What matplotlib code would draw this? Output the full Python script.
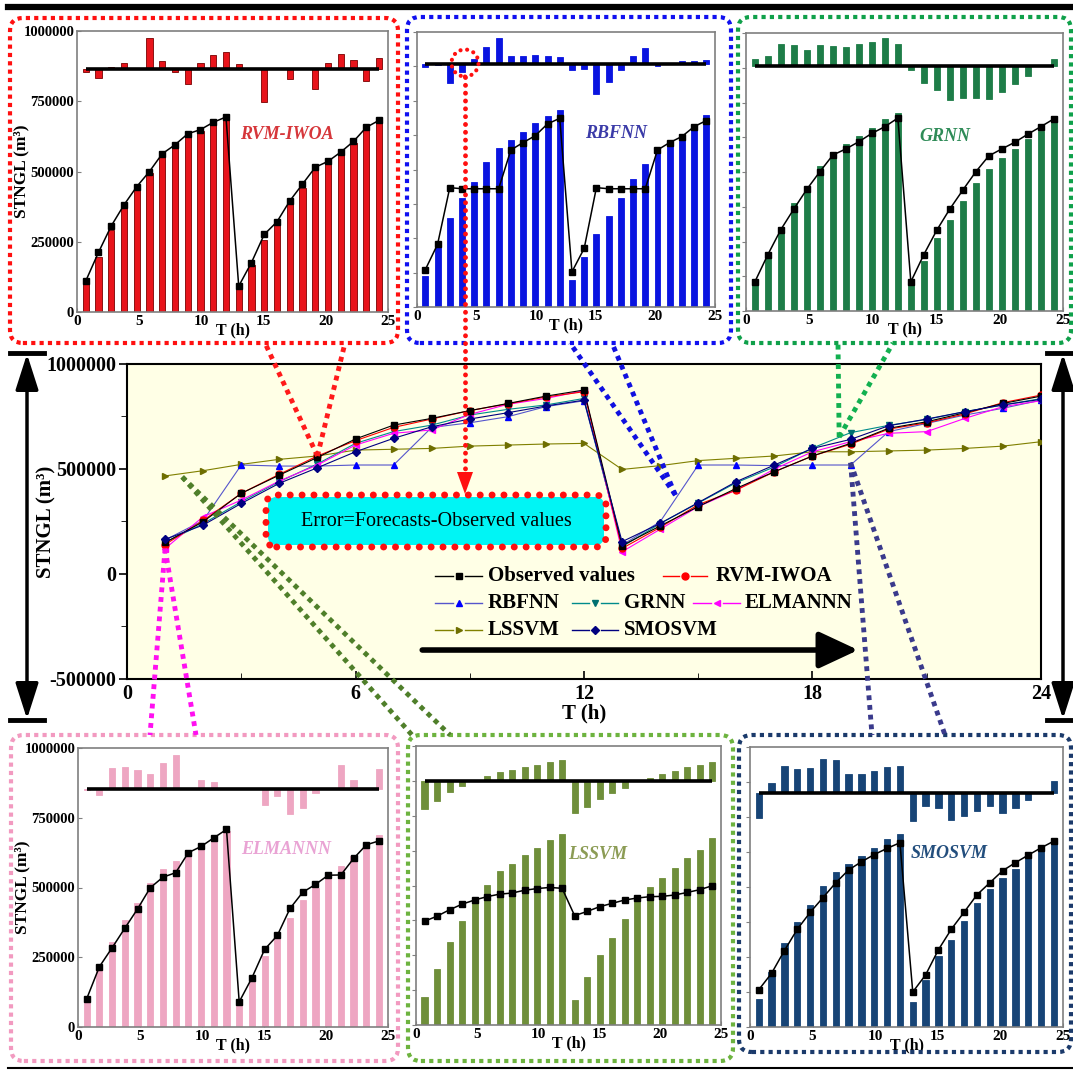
import numpy as np
import matplotlib.pyplot as plt
from matplotlib.patches import FancyBboxPatch, ConnectionPatch, Ellipse, Polygon, FancyArrowPatch
from matplotlib.lines import Line2D
from matplotlib.ticker import MultipleLocator, FormatStrFormatter

plt.rcParams['font.family'] = ['Liberation Serif', 'DejaVu Serif']
plt.rcParams['font.weight'] = 'bold'
plt.rcParams['axes.labelweight'] = 'bold'

W, H = 1073, 1071
hours = np.arange(1, 25)

# main chart (STNGL, m3)
observed = [150000, 249000, 384000, 471000, 555000, 643000, 709000, 741000, 778000, 812000, 847000, 876000,
            135000, 229000, 321000, 408000, 487000, 562000, 622000, 694000, 725000, 768000, 812000, 847000]
rvm_iwoa = [140000, 255000, 384000, 475000, 562000, 635000, 698000, 738000, 778000, 810000, 843000, 868000,
            122000, 222000, 330000, 400000, 487000, 562000, 618000, 690000, 720000, 762000, 816000, 852000]
rbfnn = [162000, 255000, 519000, 514000, 514000, 519000, 519000, 698000, 720000, 749000, 797000, 825000,
         138000, 249000, 519000, 519000, 516000, 519000, 519000, 678000, 717000, 757000, 789000, 828000]
grnn = [150000, 240000, 344000, 440000, 524000, 622000, 678000, 709000, 757000, 784000, 805000, 836000,
        130000, 240000, 338000, 435000, 510000, 600000, 673000, 708000, 736000, 773000, 805000, 835000]
elmannn = [121000, 273000, 352000, 443000, 519000, 614000, 670000, 686000, 760000, 808000, 836000, 873000,
           106000, 213000, 321000, 400000, 500000, 582000, 630000, 670000, 678000, 741000, 797000, 825000]
lssvm = [467000, 492000, 522000, 546000, 562000, 590000, 594000, 598000, 609000, 614000, 619000, 622000,
         498000, 516000, 540000, 551000, 562000, 582000, 582000, 586000, 590000, 598000, 609000, 630000]
smosvm = [165000, 233000, 336000, 432000, 506000, 582000, 646000, 701000, 738000, 768000, 800000, 828000,
          154000, 241000, 340000, 440000, 519000, 598000, 641000, 706000, 738000, 773000, 805000, 832000]

# insets: bars, black line, error bars around a baseline
rvm_bar = [101000, 196000, 292000, 369000, 440000, 494000, 553000, 589000, 625000, 643000, 670000, 690000,
           83000, 167000, 256000, 310000, 387000, 440000, 506000, 530000, 560000, 601000, 649000, 676000]
rvm_line = [110000, 212000, 306000, 381000, 446000, 500000, 563000, 595000, 634000, 649000, 675000, 694000,
            92000, 176000, 276000, 321000, 395000, 455000, 515000, 536000, 569000, 607000, 657000, 682000]
rvm_err = [-10000, -30000, 10000, 24000, 0, 113000, 30000, -10000, -50000, 24000, 51000, 63000,
           20000, 0, -117000, 0, -33000, 0, -69000, 24000, 56000, 35000, -42000, 40000]
rvm_base = 863000

rbf_bar = [112000, 225000, 322000, 395000, 456000, 529000, 580000, 607000, 638000, 668000, 696000, 717000,
           100000, 182000, 264000, 330000, 398000, 465000, 520000, 565000, 595000, 626000, 659000, 699000]
rbf_line = [136000, 228000, 434000, 430000, 430000, 430000, 430000, 571000, 598000, 623000, 666000, 686000,
            128000, 213000, 434000, 430000, 430000, 430000, 430000, 571000, 598000, 620000, 656000, 678000]
rbf_err = [-12000, -3000, -69000, -27000, 18000, 64000, 97000, 30000, 30000, 34000, 28000, 25000,
           -21000, -18000, -109000, -63000, -21000, 28000, 58000, -6000, 0, 10000, 12000, 16000]
rbf_base = 883000

grnn_bar = [99000, 189000, 285000, 387000, 447000, 523000, 571000, 601000, 630000, 657000, 692000, 712000,
            99000, 179000, 263000, 327000, 397000, 462000, 511000, 549000, 583000, 618000, 648000, 700000]
grnn_line = [105000, 203000, 293000, 367000, 438000, 501000, 561000, 583000, 609000, 639000, 663000, 694000,
             105000, 203000, 291000, 367000, 435000, 501000, 558000, 583000, 607000, 636000, 663000, 691000]
grnn_err = [28000, 36000, 82000, 76000, 60000, 78000, 73000, 70000, 82000, 87000, 101000, 82000,
            -14000, -60000, -84000, -120000, -115000, -115000, -118000, -94000, -64000, -34000, 0, 28000]
grnn_base = 880000

elm_bar = [90000, 204000, 305000, 383000, 443000, 515000, 566000, 595000, 617000, 644000, 677000, 701000,
           78000, 168000, 254000, 317000, 389000, 455000, 497000, 539000, 577000, 613000, 647000, 689000]
elm_line = [101000, 216000, 284000, 354000, 423000, 499000, 537000, 553000, 625000, 647000, 678000, 708000,
            90000, 176000, 278000, 328000, 425000, 483000, 511000, 544000, 545000, 604000, 653000, 667000]
elm_err = [-5000, -22000, 74000, 77000, 66000, 54000, 92000, 122000, 3000, 30000, 24000, 0,
           0, 0, -58000, -25000, -91000, -69000, -16000, 0, 86000, 32000, 0, 72000]
elm_base = 854000

ls_bar = [101000, 202000, 299000, 374000, 445000, 502000, 552000, 578000, 608000, 633000, 663000, 685000,
          89000, 172000, 252000, 311000, 380000, 445000, 493000, 528000, 561000, 597000, 629000, 669000]
ls_line = [372000, 390000, 413000, 433000, 448000, 460000, 469000, 473000, 483000, 489000, 493000, 490000,
           392000, 407000, 424000, 436000, 448000, 455000, 460000, 461000, 466000, 475000, 485000, 499000]
ls_err = [-102000, -72000, -42000, -21000, 0, 17000, 30000, 38000, 48000, 56000, 65000, 74000,
          -116000, -93000, -67000, -45000, -25000, 0, 11000, 23000, 34000, 48000, 56000, 65000]
ls_base = 876000

smo_bar = [100000, 195000, 299000, 374000, 436000, 505000, 555000, 582000, 610000, 638000, 670000, 691000,
           88000, 169000, 252000, 311000, 380000, 444000, 493000, 531000, 563000, 608000, 644000, 667000]
smo_line = [133000, 192000, 273000, 349000, 409000, 462000, 515000, 561000, 590000, 616000, 638000, 658000,
            125000, 186000, 276000, 349000, 410000, 472000, 515000, 558000, 587000, 614000, 640000, 664000]
smo_err = [-86000, 39000, 97000, 86000, 91000, 124000, 118000, 68000, 71000, 81000, 94000, 97000,
           -97000, -45000, -53000, -95000, -80000, -62000, -45000, -68000, -51000, -24000, 0, 44000]
smo_base = 834000


def fx(x):
    return x / W


def fy(y):
    return 1 - y / H


def rect(l, t, r, b):
    return [l / W, 1 - b / H, (r - l) / W, (b - t) / H]


fig = plt.figure(figsize=(W / 100, H / 100), dpi=100)

# ---------------- main chart ----------------
ax = fig.add_axes(rect(127, 364, 1041, 679))
ax.set_facecolor('#FFFFE6')
series = [
    (lssvm, '#808000', '#6E6E00', '>'),
    (rbfnn, '#5555CC', '#0000FF', '^'),
    (grnn, '#008B8B', '#007070', 'v'),
    (elmannn, '#FF00FF', '#FF00FF', '<'),
    (rvm_iwoa, '#FF0000', '#FF0000', 'o'),
    (observed, '#000000', '#000000', 's'),
    (smosvm, '#000080', '#000080', 'D'),
]
for vals, lc, mc, mk in series:
    ax.plot(hours, vals, color=lc, lw=0.8, marker=mk, ms=5 if mk != 'D' else 4.5,
            mfc=mc, mec=mc, zorder=3)
ax.set_xlim(0, 24)
ax.set_ylim(-500000, 1000000)
ax.set_xticks([0, 6, 12, 18, 24])
ax.xaxis.set_minor_locator(MultipleLocator(3))
ax.set_yticks([-500000, 0, 500000, 1000000])
ax.yaxis.set_minor_locator(MultipleLocator(250000))
ax.yaxis.set_major_formatter(FormatStrFormatter('%d'))
ax.tick_params(labelsize=14.5, width=1.2)
ax.tick_params(axis='x', direction='in', length=6)
ax.tick_params(axis='x', which='minor', direction='in', length=4)
ax.tick_params(axis='y', direction='out', length=6, pad=2)
ax.tick_params(axis='y', which='minor', direction='out', length=4)
for s in ax.spines.values():
    s.set_linewidth(1.5)
ax.set_xlabel('T (h)', fontsize=15, labelpad=0)
ax.set_ylabel('STNGL (m³)', fontsize=15)
ax.yaxis.set_label_coords(-0.077, 0.5)

# legend laid out like the original (three rows)
legend_rows = [
    (576, [('Observed values', '#000000', '#000000', 's', 435, 482, 488),
           ('RVM-IWOA', '#FF0000', '#FF0000', 'o', 663, 707, 716)]),
    (603, [('RBFNN', '#5555CC', '#0000FF', '^', 435, 482, 488),
           ('GRNN', '#008B8B', '#007070', 'v', 572, 618, 624),
           ('ELMANNN', '#FF00FF', '#FF00FF', '<', 693, 740, 745)]),
    (630, [('LSSVM', '#808000', '#6E6E00', '>', 435, 482, 488),
           ('SMOSVM', '#000080', '#000080', 'D', 572, 618, 624)]),
]
for py, items in legend_rows:
    for label, lc, mc, mk, x0, x1, tx in items:
        xm = (x0 + x1) / 2
        fig.add_artist(Line2D([fx(x0), fx(xm - 6)], [fy(py)] * 2, color=lc, lw=1))
        fig.add_artist(Line2D([fx(xm + 6), fx(x1)], [fy(py)] * 2, color=lc, lw=1))
        fig.add_artist(Line2D([fx(xm)], [fy(py)], marker=mk, ms=5 if mk != 'D' else 4,
                              color=mc, lw=0))
        fig.text(fx(tx), fy(py), label, fontsize=15, va='center', ha='left')

ax.annotate('', xy=(0.80, 0.092), xytext=(0.323, 0.092), xycoords='axes fraction',
            arrowprops=dict(arrowstyle='-|>,head_length=0.6,head_width=0.28', lw=4,
                            color='black', mutation_scale=40, shrinkA=0, shrinkB=0))

# error formula box
fig.add_artist(FancyBboxPatch((fx(268), fy(545)), fx(604) - fx(268), fy(497) - fy(545),
                              boxstyle='round,pad=0,rounding_size=0.008', transform=fig.transFigure,
                              fc='#00F5F5', ec='none', zorder=4))
eb = FancyBboxPatch((fx(266), fy(547)), fx(606) - fx(266), fy(495) - fy(547),
                    boxstyle='round,pad=0,rounding_size=0.01', transform=fig.transFigure,
                    fill=False, ec='#FF1010', lw=5, ls=(0, (0.01, 1.7)), zorder=5)
eb.set_capstyle('round')
fig.add_artist(eb)
fig.text(fx(436), fy(521), 'Error=Forecasts-Observed values', fontsize=14.5,
         fontweight='normal', ha='center', va='center', zorder=6)


# ---------------- insets ----------------
def draw_inset(box, bars, line, err, base, color, edge, name, name_color, name_xy, labelled):
    a = fig.add_axes(rect(*box))
    xi = 0.7 + (hours - 1) * 1.025
    a.bar(xi, bars, width=0.5, color=color, edgecolor=edge, linewidth=0.6, zorder=2)
    a.bar(xi, err, width=0.5, bottom=base, color=color, edgecolor=edge, linewidth=0.6, zorder=2)
    a.hlines(base, xi[0], xi[-1], color='black', lw=2.6, zorder=3)
    a.plot(xi, line, color='black', lw=1.1, marker='s', ms=5, zorder=4)
    a.text(name_xy[0], name_xy[1], name, color=name_color, style='italic', fontsize=13,
           ha='center', va='center')
    a.set_xlim(0, 25)
    a.set_ylim(0, 1000000)
    a.set_xticks(range(0, 26, 5))
    a.tick_params(labelsize=11, direction='in', length=3, color='#808080', pad=2)
    a.set_xlabel('T (h)', fontsize=11.5, labelpad=-4)
    if labelled:
        a.set_yticks(range(0, 1000001, 250000))
        a.yaxis.set_major_formatter(FormatStrFormatter('%d'))
        a.tick_params(axis='y', labelsize=10.5)
        a.set_ylabel('STNGL (m³)', fontsize=12.5)
        a.yaxis.set_label_coords(-0.152, 0.5)
    else:
        a.set_yticks(range(0, 1000001, 125000))
        a.set_yticklabels([])
        a.tick_params(axis='y', direction='out', length=3)
    for s in a.spines.values():
        s.set_color('#7F7F7F')
        s.set_linewidth(1.2)
    return a


draw_inset((77, 31, 388, 312), rvm_bar, rvm_line, rvm_err, rvm_base, '#E8141B', '#7A0000',
           'RVM-IWOA', '#D6363A', (16.9, 631000), True)
draw_inset((417, 32, 715, 307), rbf_bar, rbf_line, rbf_err, rbf_base, '#0A14E0', '#0A14E0',
           'RBFNN', '#3B3BA8', (16.7, 632000), False)
draw_inset((746, 33, 1063, 311), grnn_bar, grnn_line, grnn_err, grnn_base, '#1E7D48', '#1E7D48',
           'GRNN', '#2E8B57', (15.7, 627000), False)
draw_inset((78, 748, 388, 1027), elm_bar, elm_line, elm_err, elm_base, '#EEA6C2', '#EEA6C2',
           'ELMANNN', '#E9A3D4', (16.8, 637000), True)
draw_inset((416, 746, 721, 1025), ls_bar, ls_line, ls_err, ls_base, '#6F8F3A', '#6F8F3A',
           'LSSVM', '#8C9C55', (14.9, 612000), False)
draw_inset((750, 747, 1063, 1027), smo_bar, smo_line, smo_err, smo_base, '#174476', '#174476',
           'SMOSVM', '#234E7D', (15.9, 620000), False)

# dotted rounded frames around the insets
frames = [
    ((10, 18, 398, 343), '#FF1010'),
    ((407, 17, 731, 343), '#1010F0'),
    ((738, 17, 1071, 343), '#0FA04A'),
    ((11, 735, 398, 1061), '#F29AC0'),
    ((408, 735, 733, 1061), '#6DB33F'),
    ((739, 735, 1071, 1052), '#1B3A6B'),
]
for (l, t, r, b), c in frames:
    fig.add_artist(FancyBboxPatch((fx(l), fy(b)), fx(r) - fx(l), fy(t) - fy(b),
                                  boxstyle='round,pad=0,rounding_size=0.012',
                                  transform=fig.transFigure, fill=False, ec=c, lw=3,
                                  ls=(0, (1, 1)), zorder=3))

# dotted connectors from the main chart to the insets
connectors = [
    ((5, rvm_iwoa[4]), [(265, 343), (345, 343)], '#FF1A1A'),
    ((14.4, 376000), [(570, 343), (612, 343)], '#1010E0'),
    ((18.7, 652000), [(838, 343), (893, 343)], '#12B050'),
    ((19.0, 530000), [(872, 735), (945, 735)], '#3A3A8C'),
    ((1, elmannn[0]), [(150, 735), (196, 735)], '#FF10F0'),
    ((1.45, 462000), [(412, 735), (450, 735)], '#4F7F2A'),
]
for pa, ends, c in connectors:
    for ex, ey in ends:
        cp = ConnectionPatch(xyA=pa, coordsA=ax.transData, xyB=(fx(ex), fy(ey)),
                             coordsB=fig.transFigure, color=c, lw=3.5, ls=(0, (1, 1)), zorder=4)
        cp.set_capstyle('butt')
        fig.add_artist(cp)

# red marker circle in the RBFNN inset and arrow to the error box
ell = Ellipse((fx(465), fy(63)), 27 / W, 27 / H, transform=fig.transFigure, fill=False,
              ec='#FF1010', lw=3, ls=(0, (0.01, 1.6)), zorder=5)
ell.set_capstyle('round')
fig.add_artist(ell)
vl = Line2D([fx(465), fx(465)], [fy(77), fy(474)], color='#FF1010', lw=3.5,
            ls=(0, (0.01, 1.6)), zorder=5)
vl.set_dash_capstyle('round')
fig.add_artist(vl)
fig.add_artist(Polygon([(fx(457), fy(472)), (fx(473), fy(472)), (fx(465), fy(494))],
                       closed=True, transform=fig.transFigure, fc='#FF1010', ec='none', zorder=5))

# frame lines and side double arrows
fig.add_artist(Line2D([fx(8), fx(1073)], [fy(7), fy(7)], color='black', lw=4.5))
fig.add_artist(Line2D([fx(8), fx(1073)], [fy(1068), fy(1068)], color='black', lw=1.5))
for xa, c0, c1 in [(27, 10, 44), (1063, 1047, 1073)]:
    fig.add_artist(FancyArrowPatch((fx(xa), fy(354)), (fx(xa), fy(719)), transform=fig.transFigure,
                                   arrowstyle='<|-|>,head_length=1.0,head_width=0.32',
                                   mutation_scale=22, lw=2.5, color='black',
                                   shrinkA=0, shrinkB=0))
    fig.add_artist(Line2D([fx(c0), fx(c1)], [fy(353), fy(353)], color='black', lw=3.5))
    fig.add_artist(Line2D([fx(c0), fx(c1)], [fy(720), fy(720)], color='black', lw=3.5))

fig.savefig('out.png', dpi=100)
